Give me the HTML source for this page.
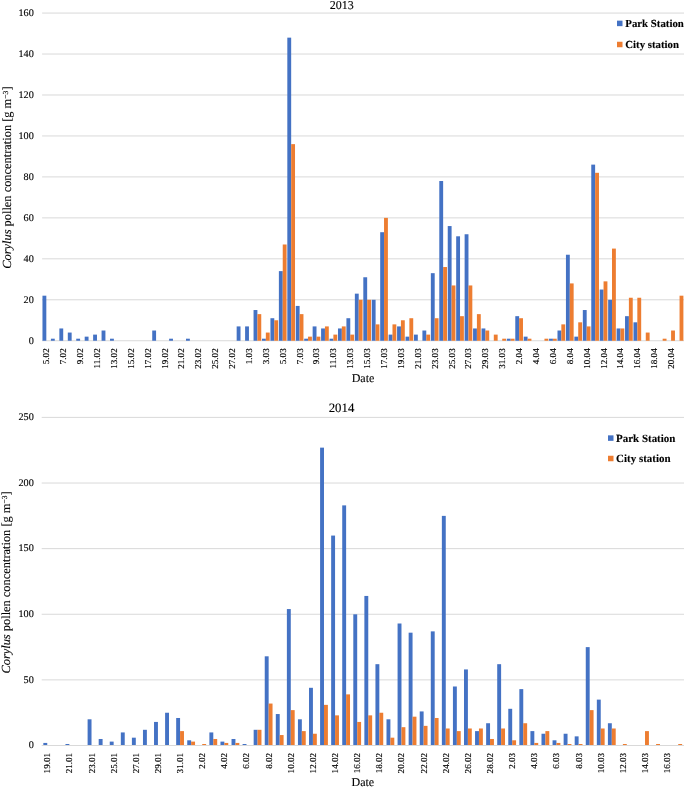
<!DOCTYPE html>
<html><head><meta charset="utf-8"><title>Corylus pollen concentration 2013-2014</title>
<style>html,body{margin:0;padding:0;background:#fff;}body{width:685px;height:788px;overflow:hidden;font-family:"Liberation Serif",serif;}svg{display:block;will-change:transform;text-rendering:geometricPrecision;}</style>
</head><body>
<svg width="685" height="788" viewBox="0 0 685 788" font-family="'Liberation Serif', serif">
<style>text{stroke:#000;stroke-width:0.12px;paint-order:stroke;}</style>
<rect width="685" height="788" fill="#fff"/>
<line x1="42.10" y1="340.75" x2="684.00" y2="340.75" stroke="#D9D9D9" stroke-width="1"/>
<text x="33.80" y="344.05" font-size="10.2" text-anchor="end" fill="#000">0</text>
<line x1="42.10" y1="299.79" x2="684.00" y2="299.79" stroke="#D9D9D9" stroke-width="1"/>
<text x="33.80" y="303.09" font-size="10.2" text-anchor="end" fill="#000">20</text>
<line x1="42.10" y1="258.83" x2="684.00" y2="258.83" stroke="#D9D9D9" stroke-width="1"/>
<text x="33.80" y="262.13" font-size="10.2" text-anchor="end" fill="#000">40</text>
<line x1="42.10" y1="217.87" x2="684.00" y2="217.87" stroke="#D9D9D9" stroke-width="1"/>
<text x="33.80" y="221.17" font-size="10.2" text-anchor="end" fill="#000">60</text>
<line x1="42.10" y1="176.91" x2="684.00" y2="176.91" stroke="#D9D9D9" stroke-width="1"/>
<text x="33.80" y="180.21" font-size="10.2" text-anchor="end" fill="#000">80</text>
<line x1="42.10" y1="135.95" x2="684.00" y2="135.95" stroke="#D9D9D9" stroke-width="1"/>
<text x="33.80" y="139.25" font-size="10.2" text-anchor="end" fill="#000">100</text>
<line x1="42.10" y1="94.99" x2="684.00" y2="94.99" stroke="#D9D9D9" stroke-width="1"/>
<text x="33.80" y="98.29" font-size="10.2" text-anchor="end" fill="#000">120</text>
<line x1="42.10" y1="54.03" x2="684.00" y2="54.03" stroke="#D9D9D9" stroke-width="1"/>
<text x="33.80" y="57.33" font-size="10.2" text-anchor="end" fill="#000">140</text>
<line x1="42.10" y1="13.07" x2="684.00" y2="13.07" stroke="#D9D9D9" stroke-width="1"/>
<text x="33.80" y="16.37" font-size="10.2" text-anchor="end" fill="#000">160</text>
<rect x="42.47" y="295.69" width="3.85" height="45.06" fill="#4472C4"/>
<rect x="50.91" y="338.70" width="3.85" height="2.05" fill="#4472C4"/>
<rect x="59.36" y="328.46" width="3.85" height="12.29" fill="#4472C4"/>
<rect x="67.80" y="332.56" width="3.85" height="8.19" fill="#4472C4"/>
<rect x="76.24" y="338.70" width="3.85" height="2.05" fill="#4472C4"/>
<rect x="84.69" y="336.65" width="3.85" height="4.10" fill="#4472C4"/>
<rect x="93.13" y="334.61" width="3.85" height="6.14" fill="#4472C4"/>
<rect x="101.57" y="330.51" width="3.85" height="10.24" fill="#4472C4"/>
<rect x="110.02" y="338.70" width="3.85" height="2.05" fill="#4472C4"/>
<rect x="152.23" y="330.51" width="3.85" height="10.24" fill="#4472C4"/>
<rect x="169.12" y="338.70" width="3.85" height="2.05" fill="#4472C4"/>
<rect x="186.00" y="338.70" width="3.85" height="2.05" fill="#4472C4"/>
<rect x="236.66" y="326.41" width="3.85" height="14.34" fill="#4472C4"/>
<rect x="245.10" y="326.41" width="3.85" height="14.34" fill="#4472C4"/>
<rect x="253.55" y="310.03" width="3.85" height="30.72" fill="#4472C4"/>
<rect x="257.40" y="314.13" width="3.85" height="26.62" fill="#ED7D31"/>
<rect x="261.99" y="338.70" width="3.85" height="2.05" fill="#4472C4"/>
<rect x="265.84" y="332.56" width="3.85" height="8.19" fill="#ED7D31"/>
<rect x="270.43" y="318.22" width="3.85" height="22.53" fill="#4472C4"/>
<rect x="274.28" y="320.27" width="3.85" height="20.48" fill="#ED7D31"/>
<rect x="278.88" y="271.12" width="3.85" height="69.63" fill="#4472C4"/>
<rect x="282.73" y="244.49" width="3.85" height="96.26" fill="#ED7D31"/>
<rect x="287.32" y="37.65" width="3.85" height="303.10" fill="#4472C4"/>
<rect x="291.17" y="144.14" width="3.85" height="196.61" fill="#ED7D31"/>
<rect x="295.76" y="305.93" width="3.85" height="34.82" fill="#4472C4"/>
<rect x="299.61" y="314.13" width="3.85" height="26.62" fill="#ED7D31"/>
<rect x="304.20" y="338.70" width="3.85" height="2.05" fill="#4472C4"/>
<rect x="308.05" y="336.65" width="3.85" height="4.10" fill="#ED7D31"/>
<rect x="312.65" y="326.41" width="3.85" height="14.34" fill="#4472C4"/>
<rect x="316.50" y="336.65" width="3.85" height="4.10" fill="#ED7D31"/>
<rect x="321.09" y="328.46" width="3.85" height="12.29" fill="#4472C4"/>
<rect x="324.94" y="326.41" width="3.85" height="14.34" fill="#ED7D31"/>
<rect x="329.53" y="338.70" width="3.85" height="2.05" fill="#4472C4"/>
<rect x="333.38" y="334.61" width="3.85" height="6.14" fill="#ED7D31"/>
<rect x="337.98" y="328.46" width="3.85" height="12.29" fill="#4472C4"/>
<rect x="341.83" y="326.41" width="3.85" height="14.34" fill="#ED7D31"/>
<rect x="346.42" y="318.22" width="3.85" height="22.53" fill="#4472C4"/>
<rect x="350.27" y="334.61" width="3.85" height="6.14" fill="#ED7D31"/>
<rect x="354.86" y="293.65" width="3.85" height="47.10" fill="#4472C4"/>
<rect x="358.71" y="299.79" width="3.85" height="40.96" fill="#ED7D31"/>
<rect x="363.31" y="277.26" width="3.85" height="63.49" fill="#4472C4"/>
<rect x="367.16" y="299.79" width="3.85" height="40.96" fill="#ED7D31"/>
<rect x="371.75" y="299.79" width="3.85" height="40.96" fill="#4472C4"/>
<rect x="375.60" y="324.37" width="3.85" height="16.38" fill="#ED7D31"/>
<rect x="380.19" y="232.21" width="3.85" height="108.54" fill="#4472C4"/>
<rect x="384.04" y="217.87" width="3.85" height="122.88" fill="#ED7D31"/>
<rect x="388.63" y="334.61" width="3.85" height="6.14" fill="#4472C4"/>
<rect x="392.48" y="324.37" width="3.85" height="16.38" fill="#ED7D31"/>
<rect x="397.08" y="326.41" width="3.85" height="14.34" fill="#4472C4"/>
<rect x="400.93" y="320.27" width="3.85" height="20.48" fill="#ED7D31"/>
<rect x="405.52" y="336.65" width="3.85" height="4.10" fill="#4472C4"/>
<rect x="409.37" y="318.22" width="3.85" height="22.53" fill="#ED7D31"/>
<rect x="413.96" y="334.61" width="3.85" height="6.14" fill="#4472C4"/>
<rect x="422.41" y="330.51" width="3.85" height="10.24" fill="#4472C4"/>
<rect x="426.26" y="334.61" width="3.85" height="6.14" fill="#ED7D31"/>
<rect x="430.85" y="273.17" width="3.85" height="67.58" fill="#4472C4"/>
<rect x="434.70" y="318.22" width="3.85" height="22.53" fill="#ED7D31"/>
<rect x="439.29" y="181.01" width="3.85" height="159.74" fill="#4472C4"/>
<rect x="443.14" y="267.02" width="3.85" height="73.73" fill="#ED7D31"/>
<rect x="447.74" y="226.06" width="3.85" height="114.69" fill="#4472C4"/>
<rect x="451.59" y="285.45" width="3.85" height="55.30" fill="#ED7D31"/>
<rect x="456.18" y="236.30" width="3.85" height="104.45" fill="#4472C4"/>
<rect x="460.03" y="316.17" width="3.85" height="24.58" fill="#ED7D31"/>
<rect x="464.62" y="234.25" width="3.85" height="106.50" fill="#4472C4"/>
<rect x="468.47" y="285.45" width="3.85" height="55.30" fill="#ED7D31"/>
<rect x="473.06" y="328.46" width="3.85" height="12.29" fill="#4472C4"/>
<rect x="476.91" y="314.13" width="3.85" height="26.62" fill="#ED7D31"/>
<rect x="481.51" y="328.46" width="3.85" height="12.29" fill="#4472C4"/>
<rect x="485.36" y="330.51" width="3.85" height="10.24" fill="#ED7D31"/>
<rect x="493.80" y="334.61" width="3.85" height="6.14" fill="#ED7D31"/>
<rect x="502.24" y="338.70" width="3.85" height="2.05" fill="#ED7D31"/>
<rect x="506.84" y="338.70" width="3.85" height="2.05" fill="#4472C4"/>
<rect x="510.69" y="338.70" width="3.85" height="2.05" fill="#ED7D31"/>
<rect x="515.28" y="316.17" width="3.85" height="24.58" fill="#4472C4"/>
<rect x="519.13" y="318.22" width="3.85" height="22.53" fill="#ED7D31"/>
<rect x="523.72" y="336.65" width="3.85" height="4.10" fill="#4472C4"/>
<rect x="527.57" y="338.70" width="3.85" height="2.05" fill="#ED7D31"/>
<rect x="544.46" y="338.70" width="3.85" height="2.05" fill="#ED7D31"/>
<rect x="549.05" y="338.70" width="3.85" height="2.05" fill="#4472C4"/>
<rect x="552.90" y="338.70" width="3.85" height="2.05" fill="#ED7D31"/>
<rect x="557.49" y="330.51" width="3.85" height="10.24" fill="#4472C4"/>
<rect x="561.34" y="324.37" width="3.85" height="16.38" fill="#ED7D31"/>
<rect x="565.94" y="254.73" width="3.85" height="86.02" fill="#4472C4"/>
<rect x="569.79" y="283.41" width="3.85" height="57.34" fill="#ED7D31"/>
<rect x="574.38" y="336.65" width="3.85" height="4.10" fill="#4472C4"/>
<rect x="578.23" y="322.32" width="3.85" height="18.43" fill="#ED7D31"/>
<rect x="582.82" y="310.03" width="3.85" height="30.72" fill="#4472C4"/>
<rect x="586.67" y="326.41" width="3.85" height="14.34" fill="#ED7D31"/>
<rect x="591.27" y="164.62" width="3.85" height="176.13" fill="#4472C4"/>
<rect x="595.12" y="172.81" width="3.85" height="167.94" fill="#ED7D31"/>
<rect x="599.71" y="289.55" width="3.85" height="51.20" fill="#4472C4"/>
<rect x="603.56" y="281.36" width="3.85" height="59.39" fill="#ED7D31"/>
<rect x="608.15" y="299.79" width="3.85" height="40.96" fill="#4472C4"/>
<rect x="612.00" y="248.59" width="3.85" height="92.16" fill="#ED7D31"/>
<rect x="616.60" y="328.46" width="3.85" height="12.29" fill="#4472C4"/>
<rect x="620.45" y="328.46" width="3.85" height="12.29" fill="#ED7D31"/>
<rect x="625.04" y="316.17" width="3.85" height="24.58" fill="#4472C4"/>
<rect x="628.89" y="297.74" width="3.85" height="43.01" fill="#ED7D31"/>
<rect x="633.48" y="322.32" width="3.85" height="18.43" fill="#4472C4"/>
<rect x="637.33" y="297.74" width="3.85" height="43.01" fill="#ED7D31"/>
<rect x="645.77" y="332.56" width="3.85" height="8.19" fill="#ED7D31"/>
<rect x="662.66" y="338.70" width="3.85" height="2.05" fill="#ED7D31"/>
<rect x="671.10" y="330.51" width="3.85" height="10.24" fill="#ED7D31"/>
<rect x="679.55" y="295.69" width="3.85" height="45.06" fill="#ED7D31"/>
<text x="49.32" y="348.30" font-size="9.1" text-anchor="end" fill="#000" transform="rotate(-90 49.32 348.30)">5.02</text>
<text x="66.21" y="348.30" font-size="9.1" text-anchor="end" fill="#000" transform="rotate(-90 66.21 348.30)">7.02</text>
<text x="83.09" y="348.30" font-size="9.1" text-anchor="end" fill="#000" transform="rotate(-90 83.09 348.30)">9.02</text>
<text x="99.98" y="348.30" font-size="9.1" text-anchor="end" fill="#000" transform="rotate(-90 99.98 348.30)">11.02</text>
<text x="116.87" y="348.30" font-size="9.1" text-anchor="end" fill="#000" transform="rotate(-90 116.87 348.30)">13.02</text>
<text x="133.75" y="348.30" font-size="9.1" text-anchor="end" fill="#000" transform="rotate(-90 133.75 348.30)">15.02</text>
<text x="150.64" y="348.30" font-size="9.1" text-anchor="end" fill="#000" transform="rotate(-90 150.64 348.30)">17.02</text>
<text x="167.52" y="348.30" font-size="9.1" text-anchor="end" fill="#000" transform="rotate(-90 167.52 348.30)">19.02</text>
<text x="184.41" y="348.30" font-size="9.1" text-anchor="end" fill="#000" transform="rotate(-90 184.41 348.30)">21.02</text>
<text x="201.30" y="348.30" font-size="9.1" text-anchor="end" fill="#000" transform="rotate(-90 201.30 348.30)">23.02</text>
<text x="218.18" y="348.30" font-size="9.1" text-anchor="end" fill="#000" transform="rotate(-90 218.18 348.30)">25.02</text>
<text x="235.07" y="348.30" font-size="9.1" text-anchor="end" fill="#000" transform="rotate(-90 235.07 348.30)">27.02</text>
<text x="251.95" y="348.30" font-size="9.1" text-anchor="end" fill="#000" transform="rotate(-90 251.95 348.30)">1.03</text>
<text x="268.84" y="348.30" font-size="9.1" text-anchor="end" fill="#000" transform="rotate(-90 268.84 348.30)">3.03</text>
<text x="285.73" y="348.30" font-size="9.1" text-anchor="end" fill="#000" transform="rotate(-90 285.73 348.30)">5.03</text>
<text x="302.61" y="348.30" font-size="9.1" text-anchor="end" fill="#000" transform="rotate(-90 302.61 348.30)">7.03</text>
<text x="319.50" y="348.30" font-size="9.1" text-anchor="end" fill="#000" transform="rotate(-90 319.50 348.30)">9.03</text>
<text x="336.38" y="348.30" font-size="9.1" text-anchor="end" fill="#000" transform="rotate(-90 336.38 348.30)">11.03</text>
<text x="353.27" y="348.30" font-size="9.1" text-anchor="end" fill="#000" transform="rotate(-90 353.27 348.30)">13.03</text>
<text x="370.16" y="348.30" font-size="9.1" text-anchor="end" fill="#000" transform="rotate(-90 370.16 348.30)">15.03</text>
<text x="387.04" y="348.30" font-size="9.1" text-anchor="end" fill="#000" transform="rotate(-90 387.04 348.30)">17.03</text>
<text x="403.93" y="348.30" font-size="9.1" text-anchor="end" fill="#000" transform="rotate(-90 403.93 348.30)">19.03</text>
<text x="420.81" y="348.30" font-size="9.1" text-anchor="end" fill="#000" transform="rotate(-90 420.81 348.30)">21.03</text>
<text x="437.70" y="348.30" font-size="9.1" text-anchor="end" fill="#000" transform="rotate(-90 437.70 348.30)">23.03</text>
<text x="454.59" y="348.30" font-size="9.1" text-anchor="end" fill="#000" transform="rotate(-90 454.59 348.30)">25.03</text>
<text x="471.47" y="348.30" font-size="9.1" text-anchor="end" fill="#000" transform="rotate(-90 471.47 348.30)">27.03</text>
<text x="488.36" y="348.30" font-size="9.1" text-anchor="end" fill="#000" transform="rotate(-90 488.36 348.30)">29.03</text>
<text x="505.24" y="348.30" font-size="9.1" text-anchor="end" fill="#000" transform="rotate(-90 505.24 348.30)">31.03</text>
<text x="522.13" y="348.30" font-size="9.1" text-anchor="end" fill="#000" transform="rotate(-90 522.13 348.30)">2.04</text>
<text x="539.02" y="348.30" font-size="9.1" text-anchor="end" fill="#000" transform="rotate(-90 539.02 348.30)">4.04</text>
<text x="555.90" y="348.30" font-size="9.1" text-anchor="end" fill="#000" transform="rotate(-90 555.90 348.30)">6.04</text>
<text x="572.79" y="348.30" font-size="9.1" text-anchor="end" fill="#000" transform="rotate(-90 572.79 348.30)">8.04</text>
<text x="589.67" y="348.30" font-size="9.1" text-anchor="end" fill="#000" transform="rotate(-90 589.67 348.30)">10.04</text>
<text x="606.56" y="348.30" font-size="9.1" text-anchor="end" fill="#000" transform="rotate(-90 606.56 348.30)">12.04</text>
<text x="623.45" y="348.30" font-size="9.1" text-anchor="end" fill="#000" transform="rotate(-90 623.45 348.30)">14.04</text>
<text x="640.33" y="348.30" font-size="9.1" text-anchor="end" fill="#000" transform="rotate(-90 640.33 348.30)">16.04</text>
<text x="657.22" y="348.30" font-size="9.1" text-anchor="end" fill="#000" transform="rotate(-90 657.22 348.30)">18.04</text>
<text x="674.10" y="348.30" font-size="9.1" text-anchor="end" fill="#000" transform="rotate(-90 674.10 348.30)">20.04</text>
<text x="341.8" y="9.2" font-size="12" text-anchor="middle" fill="#000">2013</text>
<text x="363" y="382" font-size="12" text-anchor="middle" fill="#000">Date</text>
<text x="10.6" y="177.6" font-size="12.4" text-anchor="middle" fill="#000" transform="rotate(-90 10.6 177.6)"><tspan font-style="italic">Corylus</tspan> pollen concentration [g m<tspan font-size="7.69" dy="-3.10">−3</tspan><tspan dy="3.10">]</tspan></text>
<rect x="617" y="20.65" width="5.5" height="5.5" fill="#4472C4"/>
<text x="625.3" y="26.90" font-size="10.8" font-weight="bold" fill="#000">Park Station</text>
<rect x="617" y="41.75" width="5.5" height="5.5" fill="#ED7D31"/>
<text x="625.3" y="48.00" font-size="10.8" font-weight="bold" fill="#000">City station</text>
<line x1="41.70" y1="745.50" x2="684.00" y2="745.50" stroke="#D9D9D9" stroke-width="1"/>
<text x="33.80" y="748.30" font-size="10.2" text-anchor="end" fill="#000">0</text>
<line x1="41.70" y1="679.88" x2="684.00" y2="679.88" stroke="#D9D9D9" stroke-width="1"/>
<text x="33.80" y="682.68" font-size="10.2" text-anchor="end" fill="#000">50</text>
<line x1="41.70" y1="614.26" x2="684.00" y2="614.26" stroke="#D9D9D9" stroke-width="1"/>
<text x="33.80" y="617.06" font-size="10.2" text-anchor="end" fill="#000">100</text>
<line x1="41.70" y1="548.64" x2="684.00" y2="548.64" stroke="#D9D9D9" stroke-width="1"/>
<text x="33.80" y="551.44" font-size="10.2" text-anchor="end" fill="#000">150</text>
<line x1="41.70" y1="483.02" x2="684.00" y2="483.02" stroke="#D9D9D9" stroke-width="1"/>
<text x="33.80" y="485.82" font-size="10.2" text-anchor="end" fill="#000">200</text>
<line x1="41.70" y1="417.40" x2="684.00" y2="417.40" stroke="#D9D9D9" stroke-width="1"/>
<text x="33.80" y="420.20" font-size="10.2" text-anchor="end" fill="#000">250</text>
<rect x="43.34" y="742.93" width="3.90" height="2.07" fill="#4472C4"/>
<rect x="65.47" y="744.00" width="3.90" height="1.00" fill="#4472C4"/>
<rect x="87.61" y="719.30" width="3.90" height="25.70" fill="#4472C4"/>
<rect x="98.69" y="738.99" width="3.90" height="6.01" fill="#4472C4"/>
<rect x="109.75" y="741.61" width="3.90" height="3.39" fill="#4472C4"/>
<rect x="120.83" y="732.43" width="3.90" height="12.57" fill="#4472C4"/>
<rect x="131.90" y="737.68" width="3.90" height="7.32" fill="#4472C4"/>
<rect x="142.97" y="729.80" width="3.90" height="15.20" fill="#4472C4"/>
<rect x="154.03" y="721.93" width="3.90" height="23.07" fill="#4472C4"/>
<rect x="165.10" y="712.74" width="3.90" height="32.26" fill="#4472C4"/>
<rect x="176.17" y="717.99" width="3.90" height="27.01" fill="#4472C4"/>
<rect x="180.07" y="731.11" width="3.90" height="13.89" fill="#ED7D31"/>
<rect x="187.24" y="740.30" width="3.90" height="4.70" fill="#4472C4"/>
<rect x="191.14" y="741.61" width="3.90" height="3.39" fill="#ED7D31"/>
<rect x="202.22" y="744.00" width="3.90" height="1.00" fill="#ED7D31"/>
<rect x="209.39" y="732.43" width="3.90" height="12.57" fill="#4472C4"/>
<rect x="213.29" y="738.99" width="3.90" height="6.01" fill="#ED7D31"/>
<rect x="220.46" y="741.61" width="3.90" height="3.39" fill="#4472C4"/>
<rect x="224.36" y="742.93" width="3.90" height="2.07" fill="#ED7D31"/>
<rect x="231.53" y="738.99" width="3.90" height="6.01" fill="#4472C4"/>
<rect x="235.43" y="742.93" width="3.90" height="2.07" fill="#ED7D31"/>
<rect x="242.59" y="744.00" width="3.90" height="1.00" fill="#4472C4"/>
<rect x="253.66" y="729.80" width="3.90" height="15.20" fill="#4472C4"/>
<rect x="257.56" y="729.80" width="3.90" height="15.20" fill="#ED7D31"/>
<rect x="264.74" y="656.31" width="3.90" height="88.69" fill="#4472C4"/>
<rect x="268.63" y="703.55" width="3.90" height="41.45" fill="#ED7D31"/>
<rect x="275.81" y="714.05" width="3.90" height="30.95" fill="#4472C4"/>
<rect x="279.70" y="735.05" width="3.90" height="9.95" fill="#ED7D31"/>
<rect x="286.88" y="609.06" width="3.90" height="135.94" fill="#4472C4"/>
<rect x="290.78" y="710.12" width="3.90" height="34.88" fill="#ED7D31"/>
<rect x="297.94" y="719.30" width="3.90" height="25.70" fill="#4472C4"/>
<rect x="301.84" y="731.11" width="3.90" height="13.89" fill="#ED7D31"/>
<rect x="309.02" y="687.80" width="3.90" height="57.20" fill="#4472C4"/>
<rect x="312.92" y="733.74" width="3.90" height="11.26" fill="#ED7D31"/>
<rect x="320.09" y="447.64" width="3.90" height="297.36" fill="#4472C4"/>
<rect x="323.99" y="704.87" width="3.90" height="40.13" fill="#ED7D31"/>
<rect x="331.16" y="535.57" width="3.90" height="209.43" fill="#4472C4"/>
<rect x="335.06" y="715.36" width="3.90" height="29.64" fill="#ED7D31"/>
<rect x="342.23" y="505.38" width="3.90" height="239.62" fill="#4472C4"/>
<rect x="346.12" y="694.37" width="3.90" height="50.63" fill="#ED7D31"/>
<rect x="353.30" y="614.31" width="3.90" height="130.69" fill="#4472C4"/>
<rect x="357.19" y="721.93" width="3.90" height="23.07" fill="#ED7D31"/>
<rect x="364.37" y="595.94" width="3.90" height="149.06" fill="#4472C4"/>
<rect x="368.26" y="715.36" width="3.90" height="29.64" fill="#ED7D31"/>
<rect x="375.44" y="664.18" width="3.90" height="80.82" fill="#4472C4"/>
<rect x="379.33" y="712.74" width="3.90" height="32.26" fill="#ED7D31"/>
<rect x="386.50" y="719.30" width="3.90" height="25.70" fill="#4472C4"/>
<rect x="390.40" y="737.68" width="3.90" height="7.32" fill="#ED7D31"/>
<rect x="397.58" y="623.50" width="3.90" height="121.50" fill="#4472C4"/>
<rect x="401.48" y="727.18" width="3.90" height="17.82" fill="#ED7D31"/>
<rect x="408.65" y="632.68" width="3.90" height="112.32" fill="#4472C4"/>
<rect x="412.55" y="716.68" width="3.90" height="28.32" fill="#ED7D31"/>
<rect x="419.72" y="711.43" width="3.90" height="33.57" fill="#4472C4"/>
<rect x="423.62" y="725.86" width="3.90" height="19.14" fill="#ED7D31"/>
<rect x="430.79" y="631.37" width="3.90" height="113.63" fill="#4472C4"/>
<rect x="434.69" y="717.99" width="3.90" height="27.01" fill="#ED7D31"/>
<rect x="441.86" y="515.88" width="3.90" height="229.12" fill="#4472C4"/>
<rect x="445.75" y="728.49" width="3.90" height="16.51" fill="#ED7D31"/>
<rect x="452.93" y="686.49" width="3.90" height="58.51" fill="#4472C4"/>
<rect x="456.82" y="731.11" width="3.90" height="13.89" fill="#ED7D31"/>
<rect x="464.00" y="669.43" width="3.90" height="75.57" fill="#4472C4"/>
<rect x="467.89" y="728.49" width="3.90" height="16.51" fill="#ED7D31"/>
<rect x="475.06" y="731.11" width="3.90" height="13.89" fill="#4472C4"/>
<rect x="478.96" y="728.49" width="3.90" height="16.51" fill="#ED7D31"/>
<rect x="486.14" y="723.24" width="3.90" height="21.76" fill="#4472C4"/>
<rect x="490.04" y="738.99" width="3.90" height="6.01" fill="#ED7D31"/>
<rect x="497.21" y="664.18" width="3.90" height="80.82" fill="#4472C4"/>
<rect x="501.11" y="728.49" width="3.90" height="16.51" fill="#ED7D31"/>
<rect x="508.28" y="708.80" width="3.90" height="36.20" fill="#4472C4"/>
<rect x="512.18" y="740.30" width="3.90" height="4.70" fill="#ED7D31"/>
<rect x="519.35" y="689.12" width="3.90" height="55.88" fill="#4472C4"/>
<rect x="523.25" y="723.24" width="3.90" height="21.76" fill="#ED7D31"/>
<rect x="530.42" y="731.11" width="3.90" height="13.89" fill="#4472C4"/>
<rect x="534.32" y="742.93" width="3.90" height="2.07" fill="#ED7D31"/>
<rect x="541.49" y="733.74" width="3.90" height="11.26" fill="#4472C4"/>
<rect x="545.38" y="731.11" width="3.90" height="13.89" fill="#ED7D31"/>
<rect x="552.56" y="740.30" width="3.90" height="4.70" fill="#4472C4"/>
<rect x="556.46" y="742.93" width="3.90" height="2.07" fill="#ED7D31"/>
<rect x="563.63" y="733.74" width="3.90" height="11.26" fill="#4472C4"/>
<rect x="567.53" y="744.00" width="3.90" height="1.00" fill="#ED7D31"/>
<rect x="574.70" y="736.36" width="3.90" height="8.64" fill="#4472C4"/>
<rect x="578.60" y="744.00" width="3.90" height="1.00" fill="#ED7D31"/>
<rect x="585.77" y="647.12" width="3.90" height="97.88" fill="#4472C4"/>
<rect x="589.67" y="710.12" width="3.90" height="34.88" fill="#ED7D31"/>
<rect x="596.84" y="699.62" width="3.90" height="45.38" fill="#4472C4"/>
<rect x="600.74" y="728.49" width="3.90" height="16.51" fill="#ED7D31"/>
<rect x="607.91" y="723.24" width="3.90" height="21.76" fill="#4472C4"/>
<rect x="611.81" y="728.49" width="3.90" height="16.51" fill="#ED7D31"/>
<rect x="622.88" y="744.00" width="3.90" height="1.00" fill="#ED7D31"/>
<rect x="645.02" y="731.11" width="3.90" height="13.89" fill="#ED7D31"/>
<rect x="656.09" y="744.00" width="3.90" height="1.00" fill="#ED7D31"/>
<rect x="678.23" y="744.00" width="3.90" height="1.00" fill="#ED7D31"/>
<text x="50.23" y="752.90" font-size="9.1" text-anchor="end" fill="#000" transform="rotate(-90 50.23 752.90)">19.01</text>
<text x="72.38" y="752.90" font-size="9.1" text-anchor="end" fill="#000" transform="rotate(-90 72.38 752.90)">21.01</text>
<text x="94.52" y="752.90" font-size="9.1" text-anchor="end" fill="#000" transform="rotate(-90 94.52 752.90)">23.01</text>
<text x="116.66" y="752.90" font-size="9.1" text-anchor="end" fill="#000" transform="rotate(-90 116.66 752.90)">25.01</text>
<text x="138.80" y="752.90" font-size="9.1" text-anchor="end" fill="#000" transform="rotate(-90 138.80 752.90)">27.01</text>
<text x="160.94" y="752.90" font-size="9.1" text-anchor="end" fill="#000" transform="rotate(-90 160.94 752.90)">29.01</text>
<text x="183.07" y="752.90" font-size="9.1" text-anchor="end" fill="#000" transform="rotate(-90 183.07 752.90)">31.01</text>
<text x="205.22" y="752.90" font-size="9.1" text-anchor="end" fill="#000" transform="rotate(-90 205.22 752.90)">2.02</text>
<text x="227.36" y="752.90" font-size="9.1" text-anchor="end" fill="#000" transform="rotate(-90 227.36 752.90)">4.02</text>
<text x="249.50" y="752.90" font-size="9.1" text-anchor="end" fill="#000" transform="rotate(-90 249.50 752.90)">6.02</text>
<text x="271.63" y="752.90" font-size="9.1" text-anchor="end" fill="#000" transform="rotate(-90 271.63 752.90)">8.02</text>
<text x="293.78" y="752.90" font-size="9.1" text-anchor="end" fill="#000" transform="rotate(-90 293.78 752.90)">10.02</text>
<text x="315.92" y="752.90" font-size="9.1" text-anchor="end" fill="#000" transform="rotate(-90 315.92 752.90)">12.02</text>
<text x="338.06" y="752.90" font-size="9.1" text-anchor="end" fill="#000" transform="rotate(-90 338.06 752.90)">14.02</text>
<text x="360.19" y="752.90" font-size="9.1" text-anchor="end" fill="#000" transform="rotate(-90 360.19 752.90)">16.02</text>
<text x="382.33" y="752.90" font-size="9.1" text-anchor="end" fill="#000" transform="rotate(-90 382.33 752.90)">18.02</text>
<text x="404.48" y="752.90" font-size="9.1" text-anchor="end" fill="#000" transform="rotate(-90 404.48 752.90)">20.02</text>
<text x="426.62" y="752.90" font-size="9.1" text-anchor="end" fill="#000" transform="rotate(-90 426.62 752.90)">22.02</text>
<text x="448.75" y="752.90" font-size="9.1" text-anchor="end" fill="#000" transform="rotate(-90 448.75 752.90)">24.02</text>
<text x="470.89" y="752.90" font-size="9.1" text-anchor="end" fill="#000" transform="rotate(-90 470.89 752.90)">26.02</text>
<text x="493.04" y="752.90" font-size="9.1" text-anchor="end" fill="#000" transform="rotate(-90 493.04 752.90)">28.02</text>
<text x="515.18" y="752.90" font-size="9.1" text-anchor="end" fill="#000" transform="rotate(-90 515.18 752.90)">2.03</text>
<text x="537.32" y="752.90" font-size="9.1" text-anchor="end" fill="#000" transform="rotate(-90 537.32 752.90)">4.03</text>
<text x="559.46" y="752.90" font-size="9.1" text-anchor="end" fill="#000" transform="rotate(-90 559.46 752.90)">6.03</text>
<text x="581.60" y="752.90" font-size="9.1" text-anchor="end" fill="#000" transform="rotate(-90 581.60 752.90)">8.03</text>
<text x="603.74" y="752.90" font-size="9.1" text-anchor="end" fill="#000" transform="rotate(-90 603.74 752.90)">10.03</text>
<text x="625.88" y="752.90" font-size="9.1" text-anchor="end" fill="#000" transform="rotate(-90 625.88 752.90)">12.03</text>
<text x="648.02" y="752.90" font-size="9.1" text-anchor="end" fill="#000" transform="rotate(-90 648.02 752.90)">14.03</text>
<text x="670.16" y="752.90" font-size="9.1" text-anchor="end" fill="#000" transform="rotate(-90 670.16 752.90)">16.03</text>
<text x="341.5" y="412.4" font-size="12.8" text-anchor="middle" fill="#000">2014</text>
<text x="362.8" y="786.2" font-size="12" text-anchor="middle" fill="#000">Date</text>
<text x="9.9" y="582.4" font-size="12.4" text-anchor="middle" fill="#000" transform="rotate(-90 9.9 582.4)"><tspan font-style="italic">Corylus</tspan> pollen concentration [g m<tspan font-size="7.69" dy="-3.10">−3</tspan><tspan dy="3.10">]</tspan></text>
<rect x="608" y="435.35" width="5.5" height="5.5" fill="#4472C4"/>
<text x="616.1" y="441.90" font-size="10.95" font-weight="bold" fill="#000">Park Station</text>
<rect x="608" y="455.75" width="5.5" height="5.5" fill="#ED7D31"/>
<text x="616.1" y="462.30" font-size="10.95" font-weight="bold" fill="#000">City station</text>
</svg>
</body></html>
